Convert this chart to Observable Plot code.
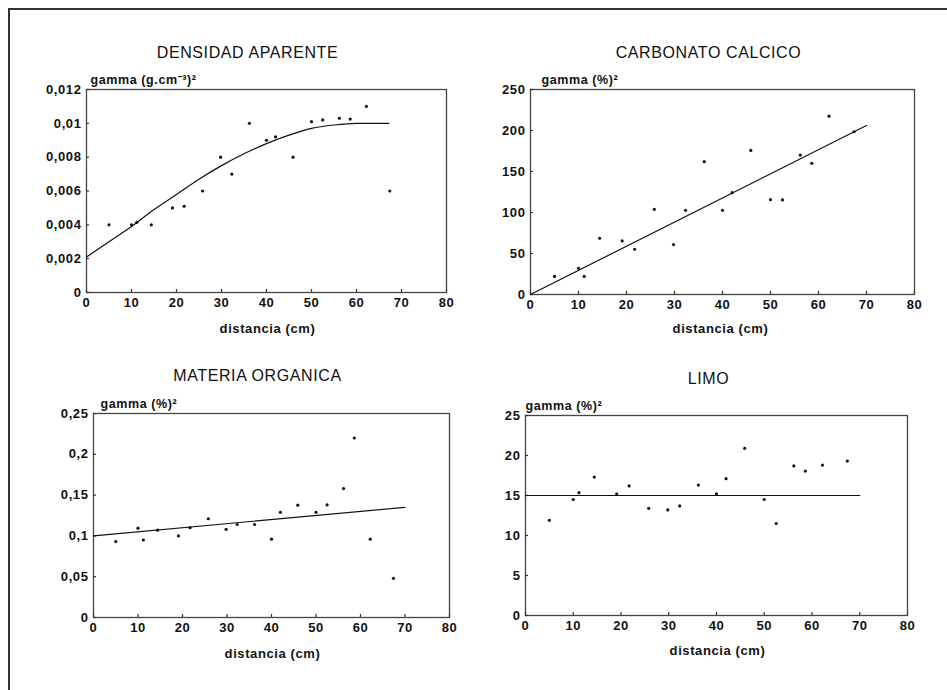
<!DOCTYPE html>
<html>
<head>
<meta charset="utf-8">
<script src="https://cdn.jsdelivr.net/npm/d3@7"></script>
<script src="https://cdn.jsdelivr.net/npm/@observablehq/plot@0.6"></script>
<style>
  html, body { margin: 0; padding: 0; background: white; }
  #page { position: relative; width: 947px; height: 690px; overflow: hidden; background: white; }
  #page svg { position: absolute; overflow: visible; }
  #page svg text { letter-spacing: 0.6px; }
  #border { position: absolute; left: 8px; top: 8px; width: 960px; height: 700px;
            border-left: 2px solid #333; border-top: 2px solid #333; }
</style>
</head>
<body>
<div id="page"><div id="border"></div></div>
<script>
// Lag distances (cm), shared by the four variograms
const distancia = [5, 10, 11.2, 14.4, 19.1, 21.7, 25.8, 29.8, 32.3, 36.2, 40, 42, 45.9, 50, 52.5, 56.2, 58.6, 62.2, 67.4];

// Experimental semivariances
const densidad  = [0.0040, 0.0040, 0.00415, 0.0040, 0.0050, 0.0051, 0.0060, 0.0080, 0.0070, 0.0100, 0.0090, 0.0092, 0.0080, 0.0101, 0.0102, 0.0103, 0.01025, 0.0110, 0.0060];
const carbonato = [22, 32, 22, 68.6, 65.3, 55.2, 103.9, 60.9, 102.7, 162, 102.7, 124.2, 175.7, 115.7, 115.3, 170, 160, 217.5, 198.5];
const materia   = [0.093, 0.1095, 0.095, 0.107, 0.100, 0.110, 0.121, 0.108, 0.114, 0.114, 0.096, 0.129, 0.1376, 0.129, 0.138, 0.158, 0.220, 0.096, 0.048];
const limo      = [11.9, 14.5, 15.35, 17.3, 15.2, 16.2, 13.4, 13.2, 13.7, 16.3, 15.2, 17.1, 20.9, 14.5, 11.5, 18.7, 18.05, 18.8, 19.3];

// Fitted model curves
const densidadModeloX = [0, 5, 10, 15, 20, 25, 30, 35, 40, 45, 50, 55, 60, 67.2];
const densidadModeloY = [0.0021, 0.0030, 0.0039, 0.0049, 0.0058, 0.0067, 0.0075, 0.0082, 0.0088, 0.0093, 0.0097, 0.0099, 0.0100, 0.0100];
const carbonatoModeloX = [0, 70];
const carbonatoModeloY = [0, 206];
const materiaModeloX = [0, 70];
const materiaModeloY = [0.100, 0.135];
const limoModeloX = [0, 70];
const limoModeloY = [15, 15];

// Axis ticks
const xTicks = [0, 10, 20, 30, 40, 50, 60, 70, 80];
const densidadTicks = [0, 0.002, 0.004, 0.006, 0.008, 0.01, 0.012];
const carbonatoTicks = [0, 50, 100, 150, 200, 250];
const materiaTicks = [0, 0.05, 0.1, 0.15, 0.2, 0.25];
const limoTicks = [0, 5, 10, 15, 20, 25];

const titles = ["DENSIDAD APARENTE", "CARBONATO CALCICO", "MATERIA ORGANICA", "LIMO"];
const yLabels = ["gamma (g.cm⁻³)²", "gamma (%)²", "gamma (%)²", "gamma (%)²"];
const xLabel = "distancia (cm)";

const FONT = "'Liberation Sans', Arial, Helvetica, sans-serif";
const fmt = d => String(+d.toFixed(4)).replace(".", ",");
const pts = (xs, ys) => xs.map((x, i) => ({x, y: ys[i]}));

function panel(o) {
  const fw = o.w - o.ml - o.mr, fh = o.h - o.mt - o.mb;
  const svg = Plot.plot({
    width: o.w, height: o.h,
    marginLeft: o.ml, marginRight: o.mr, marginTop: o.mt, marginBottom: o.mb,
    style: {fontFamily: FONT, fontSize: "13px", fontWeight: "bold", background: "transparent", color: "#111"},
    x: {domain: [0, 80]},
    y: {domain: [0, o.yTicks[o.yTicks.length - 1]]},
    marks: [
      Plot.frame({stroke: "#444", strokeWidth: 1.3}),
      Plot.tickX(xTicks, {x: d => d, insetTop: fh - 3, stroke: "#333", strokeWidth: 1.2}),
      Plot.tickY(o.yTicks, {y: d => d, insetRight: fw - 3, stroke: "#333", strokeWidth: 1.2}),
      Plot.axisX({ticks: xTicks, tickSize: 0, tickPadding: 5, tickFormat: d => String(d), label: null}),
      Plot.axisY({ticks: o.yTicks, tickSize: 0, tickPadding: 5, tickFormat: fmt, label: null}),
      Plot.line(o.model, {x: "x", y: "y", curve: "monotone-x", stroke: "#111", strokeWidth: 1.2}),
      Plot.dot(o.data, {x: "x", y: "y", r: 1.6, fill: "#111", stroke: "none"}),
      Plot.text([o.title], {text: d => d, frameAnchor: "top", lineAnchor: "middle", dx: o.tdx, dy: o.tdy, fontSize: 16, fontWeight: "normal", fill: "#111"}),
      Plot.text([o.yLabel], {text: d => d, frameAnchor: "top-left", lineAnchor: "middle", textAnchor: "start", dx: o.gdx, dy: o.gdy, fontSize: 12.5, fill: "#111"}),
      Plot.text([xLabel], {text: d => d, frameAnchor: "bottom", lineAnchor: "middle", dx: o.ldx, dy: o.ldy, fontSize: 13, fill: "#111"})
    ]
  });
  svg.style.left = o.left + "px";
  svg.style.top = o.top + "px";
  document.getElementById("page").appendChild(svg);
}

panel({left: 0, top: 0, w: 473, h: 345, ml: 86, mr: 27, mt: 89, mb: 53,
  data: pts(distancia, densidad), model: pts(densidadModeloX, densidadModeloY), yTicks: densidadTicks,
  title: titles[0], yLabel: yLabels[0], tdx: -19, tdy: -37, gdx: 4, gdy: -10, ldx: 1, ldy: 36});

panel({left: 473, top: 0, w: 474, h: 345, ml: 57, mr: 33, mt: 89, mb: 51,
  data: pts(distancia, carbonato), model: pts(carbonatoModeloX, carbonatoModeloY), yTicks: carbonatoTicks,
  title: titles[1], yLabel: yLabels[1], tdx: -14, tdy: -37, gdx: 11, gdy: -10, ldx: -2, ldy: 34});

panel({left: 0, top: 345, w: 473, h: 345, ml: 93, mr: 24, mt: 68, mb: 73,
  data: pts(distancia, materia), model: pts(materiaModeloX, materiaModeloY), yTicks: materiaTicks,
  title: titles[2], yLabel: yLabels[2], tdx: -14, tdy: -38, gdx: 7, gdy: -10, ldx: 1, ldy: 36});

panel({left: 473, top: 345, w: 474, h: 345, ml: 52, mr: 40, mt: 70, mb: 75,
  data: pts(distancia, limo), model: pts(limoModeloX, limoModeloY), yTicks: limoTicks,
  title: titles[3], yLabel: yLabels[3], tdx: -8, tdy: -37, gdx: 0, gdy: -10, ldx: 1, ldy: 35});
</script>
</body>
</html>
